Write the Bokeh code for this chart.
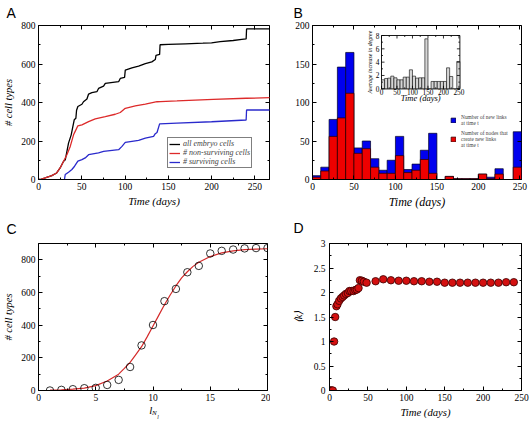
from math import pi
from bokeh.plotting import figure
from bokeh.layouts import column, row
from bokeh.models import Legend, LegendItem, LinearAxis, FixedTicker, Range1d
from bokeh.embed import file_html
from bokeh.resources import INLINE
from bokeh.core.properties import value

SERIF = "Liberation Serif"
SANS = "Liberation Sans"

# ---------------- data ----------------
# Panel A: cumulative number of cell types vs time
a_all_t = [0, 2, 7.7, 15.4, 21, 25, 29, 31, 34.7, 37.8, 39.7, 41.3, 43.2, 44, 45.5, 50.2, 52, 56, 57.9, 61.7,
           67.5, 69.4, 75.2, 77.2, 92.6, 94.5, 99.5, 100.3, 108, 115.7, 123.5, 131, 135, 135.8, 140, 140.5,
           150, 170, 190, 200, 210, 225, 235, 240, 240.5, 268]
a_all_v = [0, 0, 8, 20, 34, 60, 95, 103, 189, 232, 275, 310, 318, 360, 379, 391, 404, 418, 444, 451,
           456, 473, 485, 499, 508, 525, 530, 568, 580, 589, 602, 611, 623, 645, 650, 700,
           702, 705, 708, 710, 716, 722, 728, 730, 782, 782]
a_non_t = [0, 2, 7.7, 15.4, 21, 25, 29, 32.8, 36.7, 40.5, 42.4, 45.5, 50.2, 57.9, 65.6, 77.2, 88.7, 94.5,
           100.3, 111.9, 123.5, 137, 141, 160, 202, 240, 268]
a_non_v = [0, 0, 8, 20, 34, 60, 95, 129, 172, 232, 250, 279, 284, 301, 315, 327, 339, 348,
           370, 382, 392, 404, 405, 408, 416, 422, 425]
a_sur_t = [30, 30.9, 34.7, 38.6, 41.7, 45.5, 50.2, 54, 57.9, 69.4, 75.2, 92.6, 96.5, 100.3, 115.7, 123.5,
           133, 135, 137, 140, 160, 200, 240, 240.5, 268]
a_sur_v = [0, 26, 38, 52, 69, 95, 103, 112, 129, 138, 146, 155, 172, 193, 203, 215,
           224, 238, 244, 289, 293, 300, 309, 361, 361]
a_labels = ["all embryo cells", "# non-surviving cells", "# surviving cells"]

# Panel B: histogram (10-day bins)
b_left = [0, 10, 20, 30, 40, 50, 60, 70, 80, 90, 100, 110, 120, 130, 140, 160, 170, 180, 190, 200, 210, 220, 242]
b_links = [5, 16, 78, 146, 165, 41, 50, 27, 12, 25, 56, 13, 20, 38, 60, 4, 1, 1, 1, 7, 3, 14, 62]
b_nodes = [3, 11, 56, 80, 112, 34, 40, 16, 8, 8, 31, 9, 12, 26, 8, 4, 1, 1, 1, 7, 1, 7, 16]
b_width = 10
b_labels = ["Number of new links\nat time t", "Number of nodes that\ncreate new links\nat time t"]

# Panel B inset: average increase in degree
i_left = [0, 10, 20, 30, 40, 50, 60, 70, 80, 90, 100, 110, 120, 130, 140, 160, 170, 180, 190, 200, 210, 220, 243]
i_vals = [1.35, 1.55, 1.6, 1.9, 1.65, 1.35, 1.35, 1.75, 1.75, 2.85, 1.9, 1.6, 1.65, 1.65, 7.5,
          1.1, 1.1, 1.1, 1.1, 1.1, 3.15, 1.85, 4.1]

# Panel C: number of cell types vs l_N
c_x = [1, 2, 3, 4, 5, 6, 7, 8, 9, 10, 11, 12, 13, 14, 15, 16, 17, 18, 19, 20]
c_y = [0, 4, 8, 14, 16, 34, 65, 144, 276, 401, 547, 622, 724, 763, 839, 855, 863, 870, 872, 872]
c_fit_x = [1, 2, 3, 4, 5, 6, 7, 7.5, 8, 8.5, 9, 9.5, 10, 10.5, 11, 11.5, 12, 12.5, 13, 13.5, 14, 15, 16, 17, 18, 19, 20]
c_fit_y = [2, 4, 8, 15, 30, 58, 100, 135, 172, 220, 268, 330, 395, 460, 525, 585, 640, 690, 727, 760, 785, 820, 843, 855, 862, 866, 868]
c_xlabel_parts = ["l", "N", "l"]   # l with subscript N with subscript l

# Panel D: mean degree vs time
d_t = [0, 1.3, 3, 4.3, 6, 7.4, 9, 10.4, 12.6, 14.8, 17, 19.1, 21.3, 23.9, 26, 28.3, 31.3, 33.5, 35.6,
       37.8, 39.6, 42.2, 44.8, 48.3, 60, 70, 80, 90, 100, 110, 120, 130, 140, 150, 160, 170, 180,
       190, 200, 210, 220, 230, 240]
d_k = [0, 0, 0, 0, 1.0, 1.5, 1.72, 1.76, 1.83, 1.88, 1.91, 1.94, 1.97, 1.99, 2.03, 2.03, 2.03, 2.05, 2.06,
       2.09, 2.25, 2.24, 2.22, 2.2, 2.23, 2.27, 2.25, 2.24, 2.24, 2.23, 2.23, 2.22, 2.22, 2.2, 2.2, 2.2, 2.2,
       2.2, 2.2, 2.2, 2.2, 2.21, 2.21]

# ticks
a_xticks = [0, 50, 100, 150, 200, 250]
a_xminor = [25, 75, 125, 175, 225]
a_yticks = [0, 200, 400, 600, 800]
a_yminor = [100, 300, 500, 700]
b_xticks = [0, 50, 100, 150, 200, 250]
b_xminor = [25, 75, 125, 175, 225]
b_yticks = [0, 50, 100, 150, 200]
b_yminor = [25, 75, 125, 175]
i_xticks = [0, 50, 100, 150, 200, 250]
i_xminor = [25, 75, 125, 175, 225]
i_yticks = [0, 2, 4, 6, 8]
i_yminor = [1, 3, 5, 7]
c_xticks = [0, 5, 10, 15, 20]
c_xminor = [2.5, 7.5, 12.5, 17.5]
c_yticks = [0, 200, 400, 600, 800]
c_yminor = [100, 300, 500, 700]
d_xticks = [0, 50, 100, 150, 200, 250]
d_xminor = [25, 75, 125, 175, 225]
d_yticks = [0, 0.5, 1, 1.5, 2, 2.5, 3]
d_ytick_labels = ["0", "0.5", "1", "1.5", "2", "2.5", "3"]
d_yminor = [0.25, 0.75, 1.25, 1.75, 2.25, 2.75]


def base_fig(letter, offset, standoff, valign="middle", **kw):
    p = figure(output_backend="svg", toolbar_location=None, title=letter, min_border_top=0, **kw)
    p.xgrid.visible = False
    p.ygrid.visible = False
    p.outline_line_color = "black"
    p.outline_line_width = 1
    p.background_fill_color = "white"
    p.title.align = "left"
    p.title.vertical_align = valign
    p.title.offset = offset
    p.title.standoff = standoff
    p.title.text_font = SANS
    p.title.text_font_size = "14px"
    p.title.text_font_style = "normal"
    p.title.text_color = "black"
    return p


def style_axis(ax, ticks, minor, fs, tin=4, mtin=2):
    ax.ticker = FixedTicker(ticks=ticks, minor_ticks=minor)
    ax.major_tick_in = tin
    ax.major_tick_out = 0
    ax.minor_tick_in = mtin
    ax.minor_tick_out = 0
    ax.major_tick_line_color = "black"
    ax.minor_tick_line_color = "black"
    ax.axis_line_color = "black"
    ax.major_label_text_font = SERIF
    ax.major_label_text_font_size = fs
    ax.major_label_text_color = "black"
    ax.axis_label_text_font = SERIF
    ax.axis_label_text_font_style = "italic"
    ax.axis_label_text_color = "black"


def mirror(p, xt, xm, yt, ym):
    top = LinearAxis()
    style_axis(top, xt, xm, "8px")
    top.major_label_overrides = {t: "" for t in xt}
    top.major_label_standoff = 0
    top.axis_line_color = None
    p.add_layout(top, "above")
    right = LinearAxis()
    style_axis(right, yt, ym, "8px")
    right.major_label_overrides = {t: "" for t in yt}
    right.major_label_standoff = 0
    right.axis_line_color = None
    p.add_layout(right, "right")


def text_axis(p, pos, txt, fs, standoff):
    # a tick-less axis whose single tick label acts as a piece of the axis title
    ax = LinearAxis(ticker=FixedTicker(ticks=[pos], minor_ticks=[]),
                    major_label_overrides={pos: txt},
                    major_tick_in=0, major_tick_out=0, minor_tick_in=0, minor_tick_out=0,
                    axis_line_color=None, major_tick_line_color=None, minor_tick_line_color=None,
                    major_label_text_font=SERIF, major_label_text_font_style="italic",
                    major_label_text_font_size=fs, major_label_text_color="black",
                    major_label_standoff=standoff)
    p.add_layout(ax, "below")


# ---------------- Panel A ----------------
pA = base_fig("A", -32, 7, width=270, height=212, x_range=(0, 267), y_range=(0, 800),
              min_border_left=38, min_border_right=1, min_border_bottom=32)
rA1 = pA.line(a_all_t, a_all_v, line_color="black", line_width=1.3)
rA2 = pA.line(a_non_t, a_non_v, line_color="#dd2a2a", line_width=1.3)
rA3 = pA.line(a_sur_t, a_sur_v, line_color="#2a2acc", line_width=1.3)
style_axis(pA.xaxis[0], a_xticks, a_xminor, "9.5px")
style_axis(pA.yaxis[0], a_yticks, a_yminor, "9.5px")
pA.xaxis[0].axis_label = "Time (days)"
pA.xaxis[0].axis_label_text_font_size = "11px"
pA.xaxis[0].major_label_standoff = 3
pA.xaxis[0].axis_label_standoff = 2
pA.yaxis[0].axis_label = "# cell types"
pA.yaxis[0].axis_label_text_font_size = "10.5px"
pA.yaxis[0].major_label_standoff = 3
pA.yaxis[0].axis_label_standoff = 4
mirror(pA, a_xticks, a_xminor, a_yticks, a_yminor)
legA = Legend(items=[LegendItem(label=a_labels[0], renderers=[rA1]),
                     LegendItem(label=a_labels[1], renderers=[rA2]),
                     LegendItem(label=a_labels[2], renderers=[rA3])],
              location=(129, 11), border_line_color="black", border_line_width=1,
              background_fill_color="white", background_fill_alpha=1,
              label_text_font=SERIF, label_text_font_style="italic", label_text_font_size="8px",
              glyph_width=11, glyph_height=8, label_height=8, spacing=0, padding=1, margin=0,
              label_standoff=3)
pA.add_layout(legA)

# ---------------- Panel B ----------------
pB = base_fig("B", -19, 7, width=261, height=212, x_range=(0, 252), y_range=(0, 200),
              min_border_left=42, min_border_right=10, min_border_bottom=33)
b_right = [l + b_width for l in b_left]
rB1 = pB.quad(left=b_left, right=b_right, bottom=0, top=b_links, fill_color="#0000ee",
              line_color="#000022", line_width=0.7)
rB2 = pB.quad(left=b_left, right=b_right, bottom=0, top=b_nodes, fill_color="#ee0000",
              line_color="#220000", line_width=0.7)
style_axis(pB.xaxis[0], b_xticks, b_xminor, "9.5px")
style_axis(pB.yaxis[0], b_yticks, b_yminor, "9.5px")
pB.xaxis[0].axis_label = "Time (days)"
pB.xaxis[0].axis_label_text_font_size = "12px"
pB.xaxis[0].major_label_standoff = 3
pB.xaxis[0].axis_label_standoff = 2
pB.yaxis[0].major_label_standoff = 3
mirror(pB, b_xticks, b_xminor, b_yticks, b_yminor)
legB = Legend(items=[LegendItem(label=b_labels[0], renderers=[rB1]),
                     LegendItem(label=b_labels[1], renderers=[rB2])],
              location=(138, 31), border_line_color=None, background_fill_alpha=0,
              label_text_font=SERIF, label_text_font_size="5.4px",
              glyph_width=6, glyph_height=6, label_height=6, spacing=4, padding=2, margin=0,
              label_standoff=5)
pB.add_layout(legB)

# ---------------- Inset inside panel B (sub-coordinates) ----------------
ix0, ix1, iy0, iy1 = 0, 253, 0, 8
ins = pB.subplot(x_source=Range1d(ix0, ix1), y_source=Range1d(iy0, iy1),
                 x_target=Range1d(83.2, 177.7), y_target=Range1d(117.8, 187.0))
ins.quad(left=[ix0], right=[ix1], bottom=[iy0], top=[iy1], fill_color="white",
         line_color="black", line_width=0.9)
i_right = [l + b_width for l in i_left]
ins.quad(left=i_left, right=i_right, bottom=0, top=i_vals, fill_color="#d6d6d6",
         line_color="black", line_width=0.6)
tick_style = dict(length_units="screen", line_color="black", line_width=0.8)
ins.ray(x=i_xticks, y=[iy0] * len(i_xticks), length=3, angle=pi / 2, **tick_style)
ins.ray(x=i_xminor, y=[iy0] * len(i_xminor), length=1.5, angle=pi / 2, **tick_style)
ins.ray(x=i_xticks, y=[iy1] * len(i_xticks), length=3, angle=-pi / 2, **tick_style)
ins.ray(x=i_xminor, y=[iy1] * len(i_xminor), length=1.5, angle=-pi / 2, **tick_style)
ins.ray(x=[ix0] * len(i_yticks), y=i_yticks, length=3, angle=0, **tick_style)
ins.ray(x=[ix0] * len(i_yminor), y=i_yminor, length=1.5, angle=0, **tick_style)
ins.ray(x=[ix1] * len(i_yticks), y=i_yticks, length=3, angle=pi, **tick_style)
ins.ray(x=[ix1] * len(i_yminor), y=i_yminor, length=1.5, angle=pi, **tick_style)
ins.text(x=i_xticks, y=[iy0] * len(i_xticks), text=[str(t) for t in i_xticks],
         text_font=value(SERIF), text_font_size="7.3px", text_align="center",
         text_baseline="top", y_offset=0, text_color="black")
ins.text(x=[ix0] * len(i_yticks), y=i_yticks, text=[str(t) for t in i_yticks],
         text_font=value(SERIF), text_font_size="7.3px", text_align="right",
         text_baseline="middle", x_offset=-2, text_color="black")
ins.text(x=[(ix0 + ix1) / 2], y=[iy0], text=["Time (days)"], text_font=value(SERIF),
         text_font_style="italic", text_font_size="8.5px", text_align="center",
         text_baseline="top", y_offset=4, text_color="black")
ins.text(x=[ix0], y=[(iy0 + iy1) / 2], text=["Average increase in degree"], text_font=value(SERIF),
         text_font_style="italic", text_font_size="5.8px", text_align="center",
         text_baseline="bottom", x_offset=-9, angle=pi / 2, text_color="black")

# ---------------- Panel C ----------------
pC = base_fig("C", -32, 10, "top", width=270, height=216, x_range=(0, 20), y_range=(0, 900),
              min_border_left=38, min_border_right=3, min_border_bottom=36)
pC.line(c_fit_x, c_fit_y, line_color="#d42a2a", line_width=1.2)
pC.scatter(c_x, c_y, marker="circle", size=7.5, fill_color=None, line_color="black", line_width=0.8)
style_axis(pC.xaxis[0], c_xticks, c_xminor, "9.5px")
style_axis(pC.yaxis[0], c_yticks, c_yminor, "9.5px")
pC.xaxis[0].major_label_standoff = 3
pC.yaxis[0].axis_label = "# cell types"
pC.yaxis[0].axis_label_text_font_size = "10.5px"
pC.yaxis[0].major_label_standoff = 3
pC.yaxis[0].axis_label_standoff = 4
mirror(pC, c_xticks, c_xminor, c_yticks, c_yminor)
# axis title l_{N_l}, built from three label pieces
text_axis(pC, 9.8, c_xlabel_parts[0], "11px", 0)
text_axis(pC, 10.12, c_xlabel_parts[1], "7px", -10)
text_axis(pC, 10.43, c_xlabel_parts[2], "5.5px", -6)

# ---------------- Panel D ----------------
pD = base_fig("D", -36, 13, width=261, height=216, x_range=(0, 250), y_range=(0, 3),
              min_border_left=59, min_border_right=10, min_border_bottom=38)
pD.scatter(d_t, d_k, marker="circle", size=7.5, fill_color="#d41010", line_color="#3a0000",
           line_width=0.8)
style_axis(pD.xaxis[0], d_xticks, d_xminor, "9.5px")
style_axis(pD.yaxis[0], d_yticks, d_yminor, "9.5px")
pD.yaxis[0].major_label_overrides = dict(zip(d_yticks, d_ytick_labels))
pD.xaxis[0].axis_label = "Time (days)"
pD.xaxis[0].axis_label_text_font_size = "10.7px"
pD.xaxis[0].major_label_standoff = 3
pD.xaxis[0].axis_label_standoff = 2
pD.yaxis[0].axis_label = "\u27e8k\u27e9"
pD.yaxis[0].axis_label_text_font_size = "10.5px"
pD.yaxis[0].major_label_standoff = 4
pD.yaxis[0].axis_label_standoff = 7
mirror(pD, d_xticks, d_xminor, d_yticks, d_yminor)

layout = column(row(pA, pB, spacing=0), row(pC, pD, spacing=0), spacing=0)

open("out.html", "w").write(file_html(layout, INLINE))
